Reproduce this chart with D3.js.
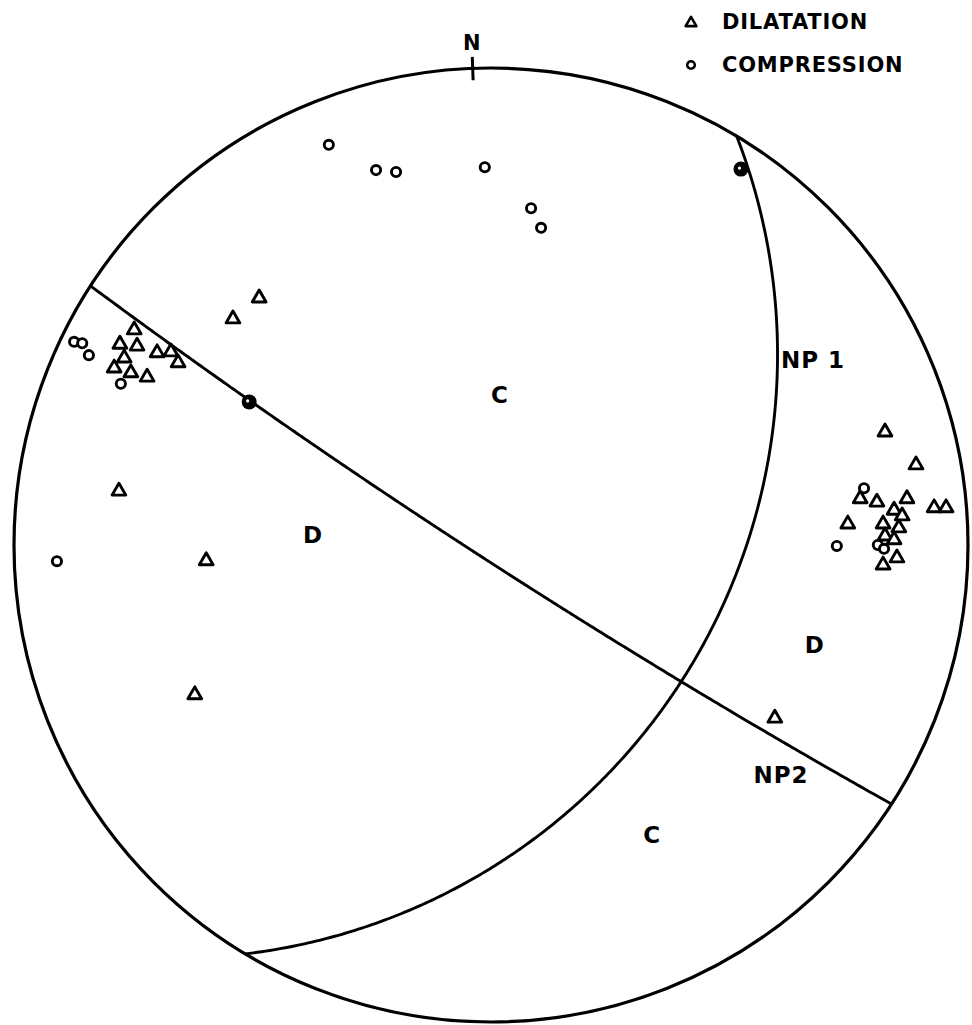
<!DOCTYPE html>
<html>
<head>
<meta charset="utf-8">
<script src="https://cdn.jsdelivr.net/npm/d3@7/dist/d3.min.js"></script>
<style>
  html, body { margin: 0; padding: 0; background: #fff; }
  svg { display: block; }
  text { font-family: "DejaVu Sans", sans-serif; font-weight: bold; fill: #000; }
</style>
</head>
<body>
<svg id="chart" width="972" height="1025"></svg>
<script>
// Fault-plane solution, lower-hemisphere stereographic (Wulff) projection.
// Station positions are given in projected net coordinates (unit circle, x east, y north).

const compressions = [
  [-0.340, 0.839], [-0.241, 0.786], [-0.199, 0.782], [-0.013, 0.792],
  [0.084, 0.706], [0.105, 0.665],
  [-0.874, 0.426], [-0.857, 0.423], [-0.843, 0.398], [-0.776, 0.338],
  [-0.910, -0.034],
  [0.782, 0.119], [0.725, -0.002], [0.811, 0.000], [0.824, -0.008]
];

const dilatations = [
  [-0.486, 0.520], [-0.541, 0.476],
  [-0.748, 0.453], [-0.778, 0.423], [-0.742, 0.419], [-0.700, 0.405],
  [-0.671, 0.407], [-0.656, 0.384], [-0.769, 0.394], [-0.790, 0.373],
  [-0.755, 0.363], [-0.721, 0.354],
  [-0.780, 0.115], [-0.597, -0.031], [-0.621, -0.312], [0.595, -0.361],
  [0.826, 0.239], [0.891, 0.170], [0.774, 0.099], [0.809, 0.092],
  [0.872, 0.099], [0.929, 0.080], [0.954, 0.080], [0.845, 0.075],
  [0.862, 0.063], [0.748, 0.046], [0.822, 0.046], [0.855, 0.038],
  [0.826, 0.021], [0.845, 0.013], [0.851, -0.025], [0.822, -0.040]
];

// Nodal planes: strike and dip in degrees (right-hand rule)
const nodalPlanes = [
  { name: "NP1", strike: 31.0, dip: 37.8 },
  { name: "NP2", strike: 122.9, dip: 86.4 }
];

// Axes marked with filled dots
const poles = [[0.524, 0.788], [-0.507, 0.300]];

// North mark azimuth (degrees)
const northAzimuth = -2.2;

// Region annotations
const regionLabels = [
  { text: "C", x: 0.019, y: 0.314 },
  { text: "D", x: -0.373, y: 0.021 },
  { text: "NP 1", x: 0.675, y: 0.388 },
  { text: "D", x: 0.679, y: -0.210 },
  { text: "NP2", x: 0.608, y: -0.482 },
  { text: "C", x: 0.338, y: -0.608 }
];

const legendItems = [
  { type: "triangle", label: "DILATATION" },
  { type: "circle", label: "COMPRESSION" }
];

const svg = d3.select("#chart");
const cx = 491, cy = 545, R = 477;

const x = d3.scaleLinear().domain([-1, 1]).range([cx - R, cx + R]);
const y = d3.scaleLinear().domain([-1, 1]).range([cy + R, cy - R]);

const rad = Math.PI / 180;

// Great circle of a plane projected on the lower hemisphere (stereographic)
function greatCircle(strike, dip) {
  const s = [Math.sin(strike * rad), Math.cos(strike * rad), 0];
  const dd = [Math.cos(dip * rad) * Math.sin((strike + 90) * rad),
              Math.cos(dip * rad) * Math.cos((strike + 90) * rad),
              Math.sin(dip * rad)];
  return d3.range(0, 180.01, 0.5).map(t => {
    const c = Math.cos(t * rad), sn = Math.sin(t * rad);
    const e = c * s[0] + sn * dd[0];
    const n = c * s[1] + sn * dd[1];
    const d = Math.max(0, c * s[2] + sn * dd[2]);
    const k = 1 / (1 + d);
    return [e * k, n * k];
  });
}

const line = d3.line().x(d => x(d[0])).y(d => y(d[1])).curve(d3.curveLinear);

// Primitive circle
svg.append("circle")
  .attr("cx", x(0)).attr("cy", y(0)).attr("r", x(1) - x(0))
  .attr("fill", "none").attr("stroke", "#000").attr("stroke-width", 3.2);

// North tick and label
const na = northAzimuth * rad;
svg.append("line")
  .attr("x1", x(0.975 * Math.sin(na))).attr("y1", y(0.975 * Math.cos(na)))
  .attr("x2", x(1.024 * Math.sin(na))).attr("y2", y(1.024 * Math.cos(na)))
  .attr("stroke", "#000").attr("stroke-width", 3);
svg.append("text")
  .attr("x", x(1.054 * Math.sin(na))).attr("y", y(1.054 * Math.cos(na)))
  .attr("text-anchor", "middle").attr("dominant-baseline", "central")
  .attr("font-size", 21).text("N");

// Nodal planes
svg.selectAll("path.plane").data(nodalPlanes).join("path")
  .attr("class", "plane")
  .attr("d", p => line(greatCircle(p.strike, p.dip)))
  .attr("fill", "none").attr("stroke", "#000").attr("stroke-width", 2.9)
  .attr("stroke-linecap", "round");

// Symbols
const tri = d3.symbol().type(d3.symbolTriangle).size(82);

svg.selectAll("path.dil").data(dilatations).join("path")
  .attr("class", "dil")
  .attr("transform", d => `translate(${x(d[0])},${y(d[1]) + 1})`)
  .attr("d", tri)
  .attr("fill", "#fff").attr("stroke", "#000").attr("stroke-width", 2.9)
  .attr("stroke-linejoin", "round");

svg.selectAll("circle.comp").data(compressions).join("circle")
  .attr("class", "comp")
  .attr("cx", d => x(d[0])).attr("cy", d => y(d[1])).attr("r", 4.6)
  .attr("fill", "#fff").attr("stroke", "#000").attr("stroke-width", 2.9);

// Pole dots
const pg = svg.selectAll("g.pole").data(poles).join("g")
  .attr("class", "pole")
  .attr("transform", d => `translate(${x(d[0])},${y(d[1])})`);
pg.append("circle").attr("r", 7.5).attr("fill", "#000");
pg.append("circle").attr("r", 1.6).attr("cx", -1.5).attr("cy", -1).attr("fill", "#fff");

// Region labels
svg.selectAll("text.region").data(regionLabels).join("text")
  .attr("class", "region")
  .attr("x", d => x(d.x)).attr("y", d => y(d.y))
  .attr("text-anchor", "middle").attr("dominant-baseline", "central")
  .attr("font-size", 23)
  .attr("letter-spacing", 1)
  .text(d => d.text);

// Legend
const legend = svg.append("g").attr("transform", "translate(691,22)");
const li = legend.selectAll("g").data(legendItems).join("g")
  .attr("transform", (d, i) => `translate(0,${i * 43})`);
li.filter(d => d.type === "triangle").append("path")
  .attr("d", d3.symbol().type(d3.symbolTriangle).size(50))
  .attr("transform", "translate(0,1)")
  .attr("fill", "#fff").attr("stroke", "#000").attr("stroke-width", 2.6)
  .attr("stroke-linejoin", "round");
li.filter(d => d.type === "circle").append("circle")
  .attr("r", 3.8).attr("fill", "#fff").attr("stroke", "#000").attr("stroke-width", 2.6);
li.append("text")
  .attr("x", 31).attr("y", 0)
  .attr("dominant-baseline", "central")
  .attr("font-size", 21)
  .attr("letter-spacing", 0.8)
  .text(d => d.label);
</script>
</body>
</html>
